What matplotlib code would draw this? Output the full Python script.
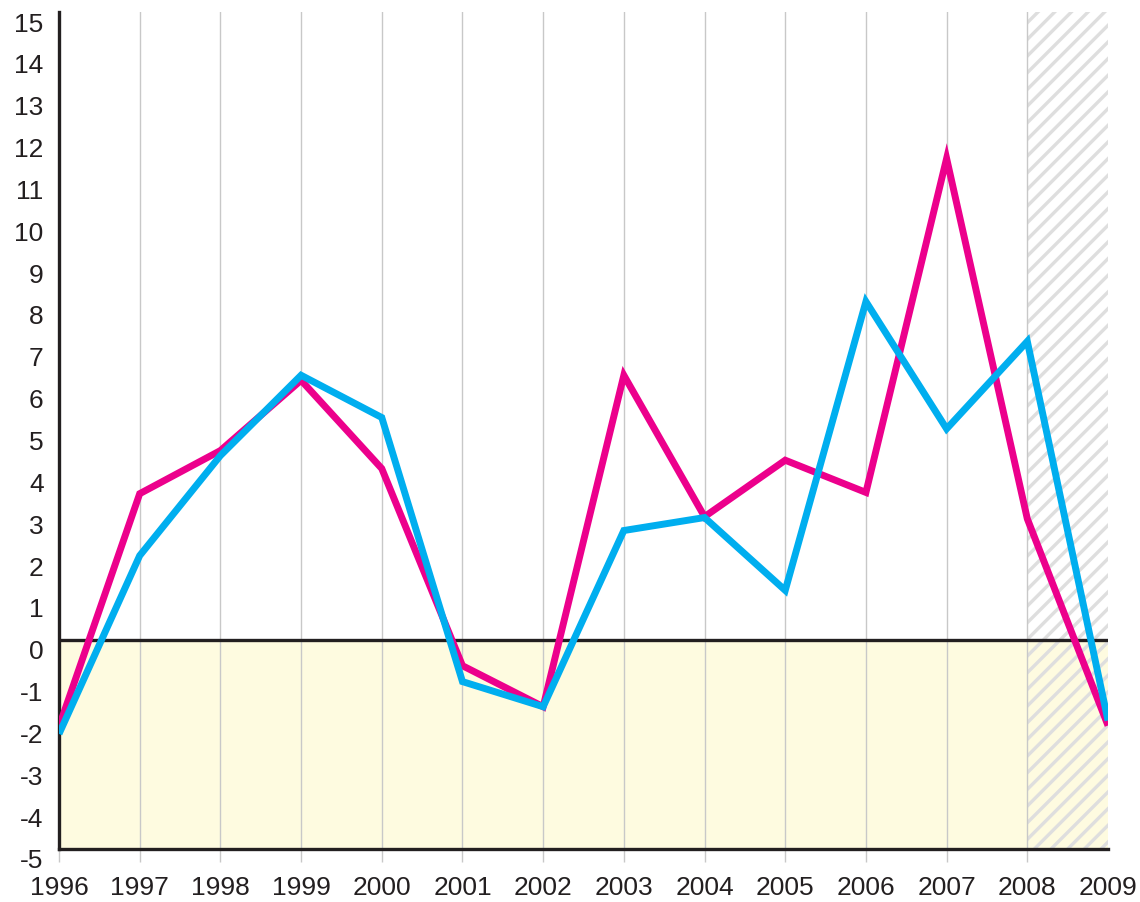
import matplotlib
matplotlib.use("Agg")
import matplotlib.pyplot as plt
import matplotlib.transforms as mtransforms

years = list(range(1996, 2010))
magenta = [-2.08, 3.49, 4.52, 6.2, 4.09, -0.62, -1.60, 6.32, 2.94, 4.29, 3.52, 11.5, 2.89, -2.05]
cyan = [-2.25, 2.01, 4.40, 6.32, 5.31, -1.0, -1.6, 2.61, 2.92, 1.18, 8.08, 5.04, 7.13, -1.93]
ytick_vals = list(range(-5, 16))
forecast_start, forecast_end = 2008, 2009

plt.rcParams['font.family'] = ['Liberation Sans', 'DejaVu Sans']
plt.rcParams['hatch.color'] = '#dedede'
plt.rcParams['hatch.linewidth'] = 2.4

fig = plt.figure(figsize=(11.4, 9.03), dpi=100)
ax = fig.add_axes([59/1140, 53/903, 1049/1140, 837/903])
ax.set_xlim(1996, 2009)
ax.set_ylim(-5, 15)

# yellow negative zone
ax.fill_between([1996, 2009], -5, 0, color='#fefbe0', zorder=0, linewidth=0)
# hatched forecast zone
ax.fill_between([forecast_start, forecast_end], -5, 15, facecolor='none',
                edgecolor='#dedede', hatch='//', linewidth=0, zorder=0.5)

# vertical grid
for y in years[1:-1]:
    ax.axvline(y, color='#c8c8c8', linewidth=1, zorder=0.6)

ax.axhline(0, color='#231f20', linewidth=2.4, zorder=1)

ax.plot(years, magenta, color='#ec008c', linewidth=5, solid_joinstyle='miter',
        solid_capstyle='butt', zorder=3)
ax.plot(years, cyan, color='#00aeef', linewidth=5, solid_joinstyle='miter',
        solid_capstyle='butt', zorder=4)

for s in ['top', 'right']:
    ax.spines[s].set_visible(False)
for s in ['left', 'bottom']:
    ax.spines[s].set_color('#231f20')
    ax.spines[s].set_linewidth(2.4)

ax.set_xticks(years)
ax.set_xticklabels([str(y) for y in years])
ax.set_yticks(ytick_vals)
ax.set_yticklabels([str(v) for v in ytick_vals])
ax.tick_params(axis='x', length=9, width=1, color='#c8c8c8', pad=10,
               labelsize=19, labelcolor='#231f20')
ax.tick_params(axis='y', length=0, pad=11, labelsize=19, labelcolor='#231f20')
ax.xaxis.get_major_ticks()[-1].tick1line.set_visible(False)

offset = mtransforms.ScaledTranslation(0, -9/100, fig.dpi_scale_trans)
for lbl in ax.get_yticklabels():
    lbl.set_transform(lbl.get_transform() + offset)

fig.savefig('out.png', dpi=100)
